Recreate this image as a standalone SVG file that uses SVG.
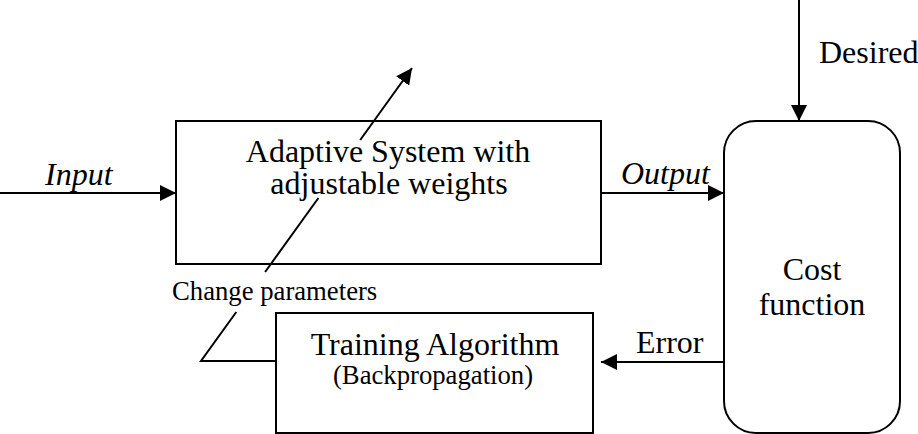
<svg xmlns="http://www.w3.org/2000/svg" width="918" height="434" viewBox="0 0 918 434">
  <style>
    .box { fill: #ffffff; stroke: #000000; stroke-width: 2; }
    .wire { fill: none; stroke: #000000; stroke-width: 2; }
    .big { font-family: "Liberation Serif", "Times New Roman", serif; font-size: 32px; fill: #000000; }
    .small { font-family: "Liberation Serif", "Times New Roman", serif; font-size: 26.7px; fill: #000000; }
    .it { font-style: italic; }
  </style>
  <defs>
    <marker id="arrow" viewBox="0 0 16 16" refX="16" refY="8" markerWidth="16" markerHeight="16" markerUnits="userSpaceOnUse" orient="auto">
      <path d="M0,0 L16,8 L0,16 Z" fill="#000000"/>
    </marker>
  </defs>

  <rect width="918" height="434" fill="#ffffff"/>

  <g id="adaptive-system">
    <rect class="box" x="176" y="121" width="425" height="143"/>
    <text class="big" x="388" y="162" text-anchor="middle">Adaptive System with</text>
    <text class="big" x="389" y="194" text-anchor="middle">adjustable weights</text>
  </g>

  <g id="cost-function">
    <rect class="box" x="724" y="121" width="176" height="312" rx="32" ry="32"/>
    <text class="big" x="812" y="280" text-anchor="middle">Cost</text>
    <text class="big" x="812" y="315" text-anchor="middle">function</text>
  </g>

  <g id="training-algorithm">
    <rect class="box" x="276" y="313" width="317" height="120"/>
    <text class="big" x="435" y="355" text-anchor="middle">Training Algorithm</text>
    <text class="small" x="433" y="384" text-anchor="middle">(Backpropagation)</text>
  </g>

  <g id="connectors">
    <line class="wire" x1="0" y1="193" x2="176" y2="193" marker-end="url(#arrow)"/>
    <line class="wire" x1="601" y1="193" x2="724" y2="193" marker-end="url(#arrow)"/>
    <line class="wire" x1="799" y1="0" x2="799" y2="121" marker-end="url(#arrow)"/>
    <line class="wire" x1="724" y1="362" x2="601" y2="362" marker-end="url(#arrow)"/>
    <!-- weight-update line, broken where it passes behind labels -->
    <polyline class="wire" points="276,361 201,361 236.3,312"/>
    <line class="wire" x1="265.1" y1="272" x2="318.4" y2="198"/>
    <line class="wire" x1="360.2" y1="140" x2="412" y2="68" marker-end="url(#arrow)"/>
  </g>

  <g id="labels">
    <text class="big it" x="45" y="185">Input</text>
    <text class="big it" x="621" y="184">Output</text>
    <text class="big" x="819" y="63">Desired</text>
    <text class="big" x="636" y="353">Error</text>
    <text class="small" x="172" y="300">Change parameters</text>
  </g>
</svg>
